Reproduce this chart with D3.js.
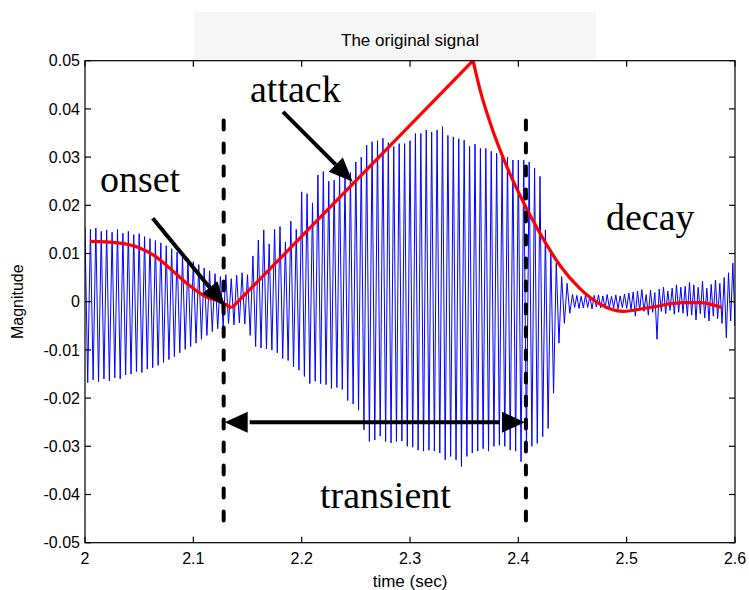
<!DOCTYPE html>
<html>
<head>
<meta charset="utf-8">
<script src="https://cdn.jsdelivr.net/npm/d3@7"></script>
<style>
  html, body { margin: 0; padding: 0; background: #fff; }
  svg { display: block; }
</style>
</head>
<body>
<svg id="chart" width="749" height="590"></svg>
<script>
// ---------------- data ----------------
const xTicks = [2, 2.1, 2.2, 2.3, 2.4, 2.5, 2.6];
const xTickLabels = ["2", "2.1", "2.2", "2.3", "2.4", "2.5", "2.6"];
const yTicks = [0.05, 0.04, 0.03, 0.02, 0.01, 0, -0.01, -0.02, -0.03, -0.04, -0.05];
const yTickLabels = ["0.05", "0.04", "0.03", "0.02", "0.01", "0", "-0.01", "-0.02", "-0.03", "-0.04", "-0.05"];

const titleText = "The original signal";
const xLabelText = "time (sec)";
const yLabelText = "Magnitude";

// blue signal: one positive and one negative peak per cycle
const cycleStart = 2.0;
const cyclePeriod = 0.005;
const peakTop = [
  0.0155, 0.0150, 0.0153, 0.0146, 0.0149, 0.0144, 0.0150, 0.0142, 0.0146, 0.0139,
  0.0141, 0.0135, 0.0131, 0.0127, 0.0122, 0.0116, 0.0110, 0.0103, 0.0096, 0.0090,
  0.0083, 0.0077, 0.0070, 0.0064, 0.0058, 0.0052, 0.0056, 0.0048, 0.0055, 0.0060,
  0.0056, 0.0095, 0.0128, 0.0149, 0.0120, 0.0150, 0.0156, 0.0124, 0.0167, 0.0150,
  0.0228, 0.0224, 0.0205, 0.0263, 0.0270, 0.0250, 0.0252, 0.0262, 0.0258, 0.0268,
  0.0290, 0.0300, 0.0325, 0.0332, 0.0334, 0.0339, 0.0330, 0.0322, 0.0328, 0.0328,
  0.0334, 0.0349, 0.0349, 0.0356, 0.0352, 0.0356, 0.0363, 0.0345, 0.0342, 0.0338,
  0.0335, 0.0322, 0.0327, 0.0318, 0.0318, 0.0312, 0.0308, 0.0301, 0.0300, 0.0294,
  0.0294, 0.0294, 0.0290, 0.0277, 0.0260, 0.0149, 0.0107, 0.0080, 0.0052, 0.0038
];
const peakBottom = [
  -0.0168, -0.0162, -0.0166, -0.0160, -0.0164, -0.0158, -0.0160, -0.0152, -0.0150, -0.0145,
  -0.0147, -0.0140, -0.0137, -0.0132, -0.0126, -0.0120, -0.0114, -0.0106, -0.0099, -0.0093,
  -0.0086, -0.0078, -0.0070, -0.0062, -0.0056, -0.0052, -0.0045, -0.0048, -0.0044, -0.0046,
  -0.0070, -0.0093, -0.0096, -0.0098, -0.0100, -0.0106, -0.0118, -0.0122, -0.0135, -0.0142,
  -0.0155, -0.0170, -0.0165, -0.0170, -0.0172, -0.0180, -0.0178, -0.0182, -0.0205, -0.0212,
  -0.0225, -0.0266, -0.0290, -0.0287, -0.0279, -0.0290, -0.0293, -0.0290, -0.0289, -0.0300,
  -0.0302, -0.0308, -0.0310, -0.0308, -0.0310, -0.0314, -0.0328, -0.0321, -0.0328, -0.0342,
  -0.0321, -0.0314, -0.0310, -0.0305, -0.0310, -0.0300, -0.0298, -0.0300, -0.0308, -0.0310,
  -0.0332, -0.0310, -0.0300, -0.0294, -0.0280, -0.0263, -0.0190, -0.0086, -0.0045, -0.0024
];
// tail of the signal (after the transient), regular samples
const tailStart = 2.45;
const tailStep = 0.002;
const tailValues = [
  0.0015, -0.0012, 0.0013, -0.0014, 0.0011, -0.0013, 0.0014, -0.0012, 0.0012, -0.0015,
  0.0013, -0.0011, 0.0014, -0.0013, 0.0012, -0.0014, 0.0015, -0.0012, 0.0011, -0.0013,
  0.0014, -0.0015, 0.0012, -0.0012, 0.0016, -0.0014,
  0.0018, -0.0016, 0.0020, -0.0030, 0.0022, -0.0018, 0.0025, -0.0020, 0.0015, -0.0028,
  0.0024, -0.0022, 0.0019, -0.0078, 0.0026, -0.0020, 0.0030, -0.0025, 0.0022, -0.0018,
  0.0028, -0.0026, 0.0035, -0.0022, 0.0030, -0.0024,
  0.0032, -0.0030, 0.0040, -0.0028, 0.0035, -0.0038, 0.0030, -0.0025, 0.0042, -0.0034,
  0.0028, -0.0040, 0.0036, -0.0030, 0.0045, -0.0035, 0.0038, -0.0045, 0.0050, -0.0075,
  0.0060, -0.0040, 0.0080, -0.0050, 0.0055, -0.0060
];

// red envelope
const onsetT = [2.0046, 2.030, 2.050, 2.065, 2.080, 2.095, 2.110, 2.125, 2.1355];
const onsetV = [0.0125, 0.0122, 0.0112, 0.0094, 0.0066, 0.0036, 0.0012, 0.0000, -0.0013];
const attackT = [2.1355, 2.3582];
const attackV = [-0.0013, 0.0500];
const decayT = [2.3582, 2.3646, 2.3769, 2.3861, 2.3953, 2.4077, 2.4262, 2.4385, 2.4569, 2.4754, 2.4966, 2.5215, 2.552, 2.5677, 2.5877];
const decayV = [0.0500, 0.0440, 0.0352, 0.0298, 0.0250, 0.0193, 0.0118, 0.0075, 0.0027, -0.0005, -0.0020, -0.0012, -0.0002, -0.0002, -0.0012];

// annotations (data coordinates)
const markerT = [2.128, 2.407];
const markerTop = 0.0376;
const markerBottom = -0.0460;
const spanV = -0.025;
const arrowFromT = [2.0625, 2.1828];
const arrowFromV = [0.0173, 0.0394];
const arrowToT = [2.1292, 2.2471];
const arrowToV = [-0.0009, 0.0249];
const labelText = ["onset", "attack", "decay", "transient"];
const labelT = [2.0138, 2.1523, 2.4809, 2.2169];
const labelV = [0.0228, 0.0414, 0.0149, -0.0428];

// ---------------- drawing ----------------
const svg = d3.select("#chart");
const margin = {left: 85, top: 60.7, right: 14, bottom: 47.3};
const W = 749 - margin.left - margin.right;
const H = 590 - margin.top - margin.bottom;

const x = d3.scaleLinear().domain([2, 2.6]).range([0, W]);
const y = d3.scaleLinear().domain([-0.05, 0.05]).range([H, 0]);

// light header band behind the title
svg.append("rect").attr("x", 194).attr("y", 12).attr("width", 402).attr("height", 49)
  .attr("fill", "#f6f6f6");

const g = svg.append("g").attr("transform", `translate(${margin.left},${margin.top})`);

g.append("defs").append("clipPath").attr("id", "clip")
  .append("rect").attr("x", 0).attr("y", 0).attr("width", W).attr("height", H);

g.append("rect").attr("x", 0).attr("y", 0).attr("width", W).attr("height", H).attr("fill", "#fff");

// blue signal points
const sig = [];
peakTop.forEach((v, i) => {
  sig.push([cycleStart + i * cyclePeriod, v]);
  sig.push([cycleStart + i * cyclePeriod + cyclePeriod / 2, peakBottom[i]]);
});
tailValues.forEach((v, j) => sig.push([tailStart + j * tailStep, v]));

const line = d3.line().x(d => x(d[0])).y(d => y(d[1]));

const plot = g.append("g").attr("clip-path", "url(#clip)");
plot.append("path").datum(sig).attr("d", line)
  .attr("fill", "none").attr("stroke", "#0000ff").attr("stroke-width", 1);

// red envelope
const curveLine = d3.line().x(d => x(d[0])).y(d => y(d[1])).curve(d3.curveMonotoneX);
const red = g.append("g");
red.append("path").datum(onsetT.map((t, i) => [t, onsetV[i]])).attr("d", curveLine);
red.append("path").datum(attackT.map((t, i) => [t, attackV[i]])).attr("d", line);
red.append("path").datum(decayT.map((t, i) => [t, decayV[i]])).attr("d", curveLine);
red.selectAll("path").attr("fill", "none").attr("stroke", "#ff0000")
  .attr("stroke-width", 3.2).attr("stroke-linejoin", "miter");

// axes box
g.append("rect").attr("x", 0).attr("y", 0).attr("width", W).attr("height", H)
  .attr("fill", "none").attr("stroke", "#000").attr("stroke-width", 1.2);

const font = "'Liberation Sans', Arial, Helvetica, sans-serif";
const tickLen = 6;
// x ticks (inward, bottom and top)
xTicks.forEach((t, i) => {
  g.append("line").attr("x1", x(t)).attr("x2", x(t)).attr("y1", H).attr("y2", H - tickLen)
    .attr("stroke", "#000").attr("stroke-width", 1.2);
  g.append("line").attr("x1", x(t)).attr("x2", x(t)).attr("y1", 0).attr("y2", tickLen)
    .attr("stroke", "#000").attr("stroke-width", 1.2);
  g.append("text").attr("x", x(t)).attr("y", H + 21.5).attr("text-anchor", "middle")
    .attr("font-family", font).attr("font-size", 16).text(xTickLabels[i]);
});
yTicks.forEach((t, i) => {
  g.append("line").attr("x1", 0).attr("x2", tickLen).attr("y1", y(t)).attr("y2", y(t))
    .attr("stroke", "#000").attr("stroke-width", 1.2);
  g.append("line").attr("x1", W).attr("x2", W - tickLen).attr("y1", y(t)).attr("y2", y(t))
    .attr("stroke", "#000").attr("stroke-width", 1.2);
  g.append("text").attr("x", -5).attr("y", y(t)).attr("dy", "0.36em").attr("text-anchor", "end")
    .attr("font-family", font).attr("font-size", 16).text(yTickLabels[i]);
});

// title and axis labels
svg.append("text").attr("x", margin.left + W / 2).attr("y", 45.5).attr("text-anchor", "middle")
  .attr("font-family", font).attr("font-size", 17).text(titleText);
svg.append("text").attr("x", margin.left + W / 2).attr("y", 587).attr("text-anchor", "middle")
  .attr("font-family", font).attr("font-size", 17).text(xLabelText);
svg.append("text").attr("transform", `translate(23,${margin.top + H / 2}) rotate(-90)`)
  .attr("text-anchor", "middle").attr("font-family", font).attr("font-size", 16).text(yLabelText);

// dashed markers
markerT.forEach(t => {
  g.append("line").attr("x1", x(t)).attr("x2", x(t)).attr("y1", y(markerTop)).attr("y2", y(markerBottom))
    .attr("stroke", "#000").attr("stroke-width", 4).attr("stroke-linecap", "round")
    .attr("stroke-dasharray", "9,14");
});

// arrow helper
function arrowHead(tipX, tipY, fromX, fromY, len, halfW) {
  const a = Math.atan2(tipY - fromY, tipX - fromX);
  const bx = tipX - len * Math.cos(a), by = tipY - len * Math.sin(a);
  const px = -Math.sin(a) * halfW, py = Math.cos(a) * halfW;
  g.append("path").attr("d", `M${tipX},${tipY}L${bx + px},${by + py}L${bx - px},${by - py}Z`)
    .attr("fill", "#000");
  return [bx, by];
}

// span arrow (transient)
{
  const x1 = x(markerT[0]) + 1, x2 = x(markerT[1]) - 1, yy = y(spanV);
  const b1 = arrowHead(x1, yy, x2, yy, 23, 10.5);
  const b2 = arrowHead(x2, yy, x1, yy, 23, 10.5);
  g.append("line").attr("x1", b1[0] + 2).attr("x2", b2[0] - 2).attr("y1", yy).attr("y2", yy)
    .attr("stroke", "#000").attr("stroke-width", 4);
}
// pointer arrows
arrowFromT.forEach((t, i) => {
  const fx = x(t), fy = y(arrowFromV[i]), tx = x(arrowToT[i]), ty = y(arrowToV[i]);
  const b = arrowHead(tx, ty, fx, fy, 24, 10);
  g.append("line").attr("x1", fx).attr("y1", fy).attr("x2", b[0]).attr("y2", b[1])
    .attr("stroke", "#000").attr("stroke-width", 4);
});

// text labels
labelText.forEach((s, i) => {
  g.append("text").attr("x", x(labelT[i])).attr("y", y(labelV[i]))
    .attr("font-family", "'Liberation Serif', 'Times New Roman', serif").attr("font-size", 38)
    .attr("fill", "#000").text(s);
});
</script>
</body>
</html>
